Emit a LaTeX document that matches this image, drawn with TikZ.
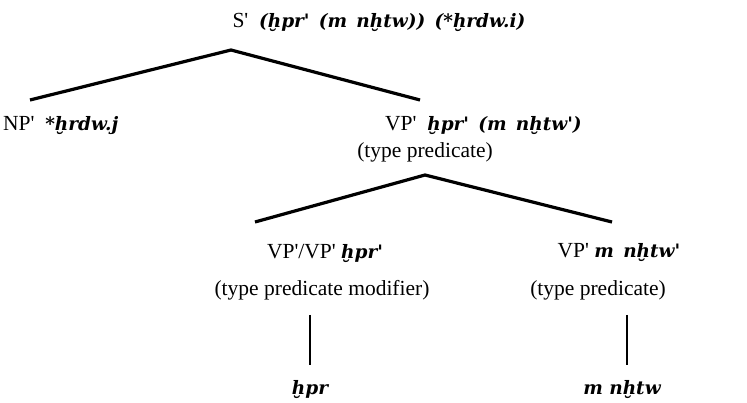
\documentclass[tikz,border=0pt]{standalone}
\usepackage{fontspec}
\setmainfont{Liberation Serif}
\newfontfamily\translitfont{DejaVu Serif}
\newcommand{\apos}{\textquotesingle}
\newcommand{\translit}[1]{{\translitfont\fontsize{18.5}{22}\selectfont\bfseries\itshape #1}}
\newcommand{\wsp}{\hspace{0.5em}}
\begin{document}
\begin{tikzpicture}[x=1pt,y=-1pt,
  every node/.style={font=\fontsize{21.5}{26}\selectfont, inner sep=0pt},
  branch/.style={line width=3.2pt},
  stem/.style={line width=2.4pt}]
\useasboundingbox (0,0) rectangle (747,403);
% labels
\node (S) at (379,22) {S\apos\wsp\translit{(ḫpr\apos\wsp(m\wsp nḫtw))\wsp(*ḫrdw.i)}};
\node[anchor=west] (NP) at (3,126) {NP\apos\wsp\translit{*ḫrdw.j}};
\node[anchor=west] (VP) at (385,126) {VP\apos\wsp\translit{ḫpr\apos\wsp(m\wsp nḫtw\apos)}};
\node (VPtype) at (425,152) {(type predicate)};
\node (VPmod) at (325,253) {VP\apos/VP\apos\ \translit{ḫpr\apos}};
\node (VPmodtype) at (322,290) {(type predicate modifier)};
\node (VPpp) at (619,253) {VP\apos\ \translit{m\wsp nḫtw\apos}};
\node (VPpptype) at (598,290) {(type predicate)};
\node (hpr) at (310,390) {\translit{ḫpr}};
\node (mnhtw) at (622,390) {\translit{m nḫtw}};
% branch points
\coordinate (S-fork) at (231,50);
\coordinate (NP-top) at (30,100);
\coordinate (VP-top) at (420,100);
\coordinate (VP-fork) at (425,175);
\coordinate (VPmod-top) at (255,222);
\coordinate (VPpp-top) at (612,222);
\coordinate (hpr-top) at (310,315);
\coordinate (mnhtw-top) at (627,315);
\draw[branch] (NP-top)--(S-fork)--(VP-top);
\draw[branch] (VPmod-top)--(VP-fork)--(VPpp-top);
\draw[stem] (hpr-top)--(hpr-top|-0,365);
\draw[stem] (mnhtw-top)--(mnhtw-top|-0,365);
\end{tikzpicture}
\end{document}
